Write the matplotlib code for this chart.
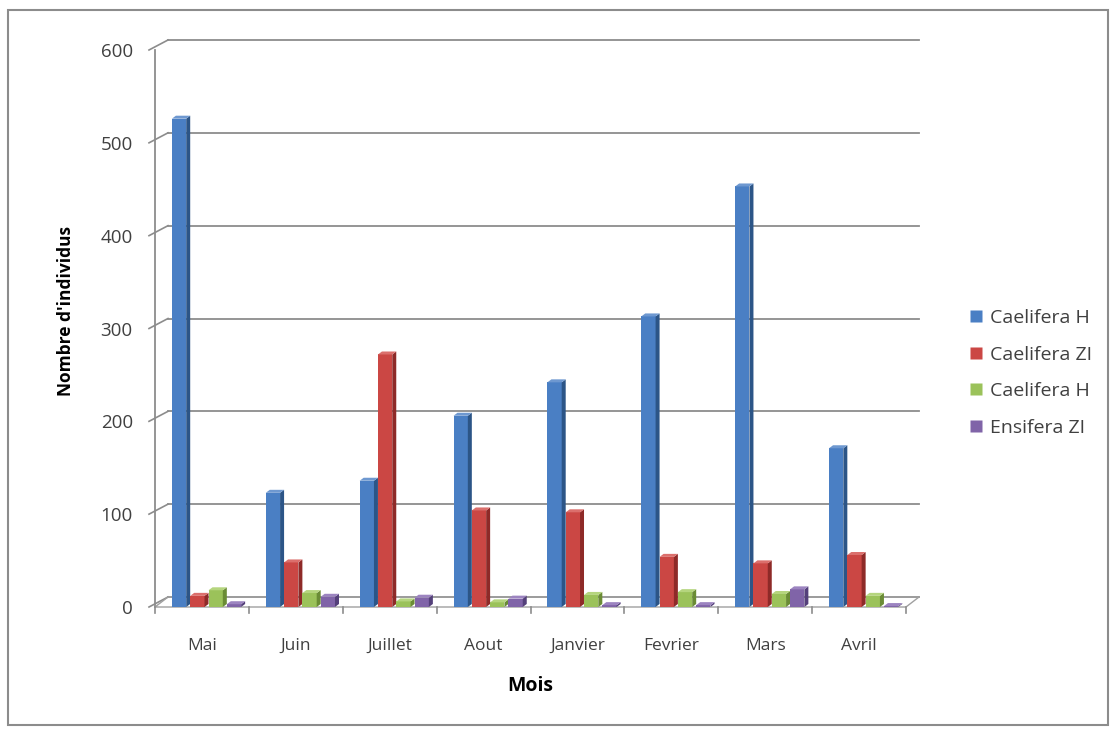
import matplotlib.pyplot as plt
from matplotlib.patches import Polygon, Rectangle
from matplotlib.lines import Line2D
import numpy as np

plt.rcParams['font.family'] = ['Open Sans', 'DejaVu Sans']

mois = ['Mai', 'Juin', 'Juillet', 'Aout', 'Janvier', 'Fevrier', 'Mars', 'Avril']
series_names = ['Caelifera H', 'Caelifera ZI', 'Caelifera H', 'Ensifera ZI']
caelifera_h = [526, 123, 136, 206, 242, 313, 453, 171]
caelifera_zi = [12, 48, 272, 104, 102, 54, 47, 56]
caelifera_h2 = [18, 15, 6, 5, 13, 16, 14, 12]
ensifera_zi = [3, 11, 10, 9, 2, 2, 19, 1]
y_ticks = [0, 100, 200, 300, 400, 500, 600]

values = [caelifera_h, caelifera_zi, caelifera_h2, ensifera_zi]
front_cols = ['#4A7FC4', '#CB4744', '#9BC25A', '#8064A8']
side_cols = ['#2C5587', '#8E2A28', '#6A8C35', '#54407A']
top_cols = ['#6E98D0', '#DB6F6C', '#B5D57E', '#9C84C0']

W, H = 1118, 733
fig = plt.figure(figsize=(W / 100, H / 100), dpi=100)

# chart frame
fig.patches.append(Rectangle((8 / W, 8 / H), (1108 - 8) / W, (723 - 8) / H,
                             transform=fig.transFigure, fill=False,
                             edgecolor='#8C8C8C', linewidth=1.5))

x0, x1, y0, y1 = 155, 906, 607, 50
ax = fig.add_axes([x0 / W, (H - y0) / H, (x1 - x0) / W, (y0 - y1) / H])
ax.set_xlim(-0.5, 7.5)
ax.set_ylim(0, 600)
for s in ax.spines.values():
    s.set_visible(False)

px_x = 8 / (x1 - x0)          # category units per pixel
px_y = 600 / (y0 - y1)        # value units per pixel
dxw, dyw = 13 * px_x, 10 * px_y   # wall depth
dxb, dyb = 4 * px_x, 3 * px_y     # bar depth

grid_c = '#8C8C8C'
# back wall gridlines and slanted ticks
for v in y_ticks:
    ax.plot([-0.5 - 6 * px_x, -0.5 + dxw], [v, v + dyw], color=grid_c, lw=1.2,
            clip_on=False, zorder=1)
    ax.plot([-0.5 + dxw, 7.5 + dxw], [v + dyw, v + dyw], color=grid_c, lw=1.3,
            clip_on=False, zorder=1)
# front vertical axis
ax.plot([-0.5, -0.5], [0, 600], color=grid_c, lw=1.3, clip_on=False, zorder=1)
# floor
floor = Polygon([(-0.5, 0), (7.5, 0), (7.5 + dxw, dyw), (-0.5 + dxw, dyw)],
                closed=True, facecolor='none', edgecolor='#A0A0A0', lw=1.0,
                clip_on=False, zorder=1)
ax.add_patch(floor)

# 3D-looking clustered columns
step = 0.195
wf = step - dxb
start = -0.32
for k, vals in enumerate(values):
    xs = np.arange(len(mois)) + start + step * k
    ax.bar(xs, vals, width=wf, align='edge', color=front_cols[k],
           edgecolor='none', zorder=3 + k, clip_on=False)
    for xl, v in zip(xs, vals):
        xr = xl + wf
        side = Polygon([(xr, 0), (xr + dxb, dyb), (xr + dxb, v + dyb), (xr, v)],
                       closed=True, facecolor=side_cols[k], edgecolor='none',
                       zorder=3.5 + k, clip_on=False)
        top = Polygon([(xl, v), (xl + dxb, v + dyb), (xr + dxb, v + dyb), (xr, v)],
                      closed=True, facecolor=top_cols[k], edgecolor='none',
                      zorder=3.5 + k, clip_on=False)
        ax.add_patch(side)
        ax.add_patch(top)

# category ticks between months
for b in np.arange(-0.5, 8.0, 1.0):
    ax.plot([b, b], [0, -6 * px_y], color=grid_c, lw=1.2, clip_on=False)

ax.set_xticks(range(len(mois)))
ax.set_xticklabels(mois, fontsize=12.5, color='#404040')
ax.tick_params(axis='x', length=0, pad=22)
ax.set_yticks(y_ticks)
ax.set_yticklabels([str(v) for v in y_ticks], fontsize=13.5, color='#404040')
ax.tick_params(axis='y', length=0, pad=16)

ax.set_xlabel('Mois', fontsize=14, fontweight='bold', labelpad=16)
fig.text(66 / W, 1 - 311 / H, "Nombre d'individus", rotation=90,
         fontsize=12.5, fontweight='bold', ha='center', va='center')

handles = [Line2D([0], [0], marker='s', linestyle='none', markersize=8.5,
                  markerfacecolor=c, markeredgecolor='none') for c in front_cols]
fig.legend(handles, series_names, loc='center left',
           bbox_to_anchor=(960 / W, 1 - 373 / H), frameon=False, fontsize=14,
           handlelength=0.8, handletextpad=0.35, labelspacing=0.95,
           borderaxespad=0, labelcolor='#404040')

fig.savefig('out.png', dpi=100)
